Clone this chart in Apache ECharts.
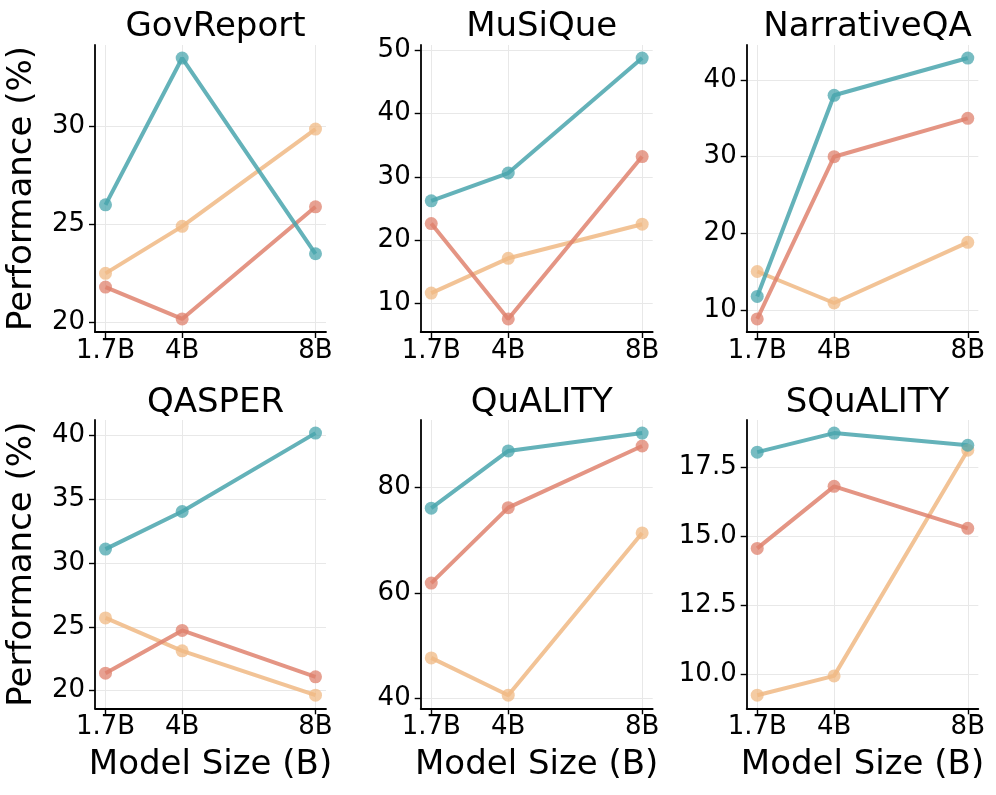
<!DOCTYPE html>
<html>
<head>
<meta charset="utf-8">
<script src="https://cdn.jsdelivr.net/npm/echarts@6/dist/echarts.min.js"></script>
<style>
html,body{margin:0;padding:0;background:#fff;}
#c{width:996px;height:795px;}
</style>
</head>
<body>
<div id="c"></div>
<script>
// ---- data ----
const datasets = ['GovReport', 'MuSiQue', 'NarrativeQA', 'QASPER', 'QuALITY', 'SQuALITY'];
const modelSizes = [1.7, 4, 8];
const sizeLabels = ['1.7B', '4B', '8B'];
// values per dataset, order [1.7B, 4B, 8B]
const tealValues = [
  [26.0, 33.5, 23.5],
  [26.2, 30.6, 48.8],
  [11.8, 38.0, 42.85],
  [31.1, 34.05, 40.2],
  [76.1, 87.0, 90.4],
  [18.05, 18.74, 18.3]
];
const salmonValues = [
  [21.8, 20.17, 25.9],
  [22.6, 7.5, 33.2],
  [8.87, 30.0, 35.0],
  [21.37, 24.72, 21.08],
  [61.85, 76.2, 87.95],
  [14.56, 16.81, 15.29]
];
const peachValues = [
  [22.5, 24.9, 29.87],
  [11.6, 17.1, 22.5],
  [15.05, 10.95, 18.85],
  [25.7, 23.12, 19.64],
  [47.6, 40.5, 71.4],
  [9.24, 9.94, 18.12]
];
const yTickValues = [
  [20, 25, 30],
  [10, 20, 30, 40, 50],
  [10, 20, 30, 40],
  [20, 25, 30, 35, 40],
  [40, 60, 80],
  [10, 12.5, 15, 17.5]
];
const yTickDecimals = [0, 0, 0, 0, 0, 1];

// ---- layout / style ----
const FONT = 'DejaVu Sans';
const colLeft = [95, 420.7, 746.7];
const colWidth = [231, 232, 231.6];
const rowTop = [45, 420];
const rowHeight = [287, 288.3];
const titleTop = [5, 381];
const seriesStyles = [
  {name: 'peach', color: '#f0b984', values: peachValues},
  {name: 'salmon', color: '#df826e', values: salmonValues},
  {name: 'teal', color: '#49a5ad', values: tealValues}
];

const grids = [], xAxes = [], yAxes = [], series = [], titles = [];
datasets.forEach((name, i) => {
  const r = Math.floor(i / 3), c = i % 3;
  grids.push({left: colLeft[c], top: rowTop[r], width: colWidth[c], height: rowHeight[r]});
  titles.push({
    text: name,
    left: colLeft[c] + colWidth[c] / 2,
    top: titleTop[r],
    textAlign: 'center',
    textStyle: {fontFamily: FONT, fontSize: 34, fontWeight: 'normal', color: '#000'}
  });
  const xr = modelSizes[modelSizes.length - 1] - modelSizes[0];
  xAxes.push({
    type: 'value', gridIndex: i,
    min: modelSizes[0] - 0.05 * xr, max: modelSizes[modelSizes.length - 1] + 0.05 * xr,
    name: r === 1 ? 'Model Size (B)' : '',
    nameLocation: 'middle', nameGap: 40,
    nameTextStyle: {fontFamily: FONT, fontSize: 34, color: '#000'},
    axisLine: {show: true, onZero: false, lineStyle: {color: '#000', width: 1.8}},
    axisTick: {show: true, length: 6, customValues: modelSizes, lineStyle: {color: '#000', width: 1.4}},
    axisLabel: {
      customValues: modelSizes, margin: 6,
      fontFamily: FONT, fontSize: 26, color: '#000',
      formatter: v => sizeLabels[modelSizes.indexOf(v)] || ''
    },
    splitLine: {show: true, lineStyle: {color: '#e8e8e8', width: 1}}
  });
  const all = tealValues[i].concat(salmonValues[i], peachValues[i]);
  const mn = Math.min(...all), mx = Math.max(...all), pad = 0.05 * (mx - mn);
  yAxes.push({
    type: 'value', gridIndex: i,
    min: mn - pad, max: mx + pad,
    name: c === 0 ? 'Performance (%)' : '',
    nameLocation: 'middle', nameGap: 56,
    nameTextStyle: {fontFamily: FONT, fontSize: 34, color: '#000'},
    axisLine: {show: true, onZero: false, lineStyle: {color: '#000', width: 1.8}},
    axisTick: {show: true, length: 6, customValues: yTickValues[i], lineStyle: {color: '#000', width: 1.4}},
    axisLabel: {
      customValues: yTickValues[i], margin: 10,
      fontFamily: FONT, fontSize: 26, color: '#000',
      formatter: v => v.toFixed(yTickDecimals[i])
    },
    splitLine: {show: true, lineStyle: {color: '#e8e8e8', width: 1}}
  });
  seriesStyles.forEach(s => {
    series.push({
      type: 'line', name: s.name,
      xAxisIndex: i, yAxisIndex: i,
      data: modelSizes.map((x, k) => [x, s.values[i][k]]),
      symbol: 'circle', symbolSize: 13,
      lineStyle: {color: s.color, width: 4, opacity: 0.85},
      itemStyle: {color: s.color, opacity: 0.75},
      clip: false, animation: false
    });
  });
});

const chart = echarts.init(document.getElementById('c'));
chart.setOption({
  animation: false,
  backgroundColor: '#fff',
  title: titles,
  grid: grids,
  xAxis: xAxes,
  yAxis: yAxes,
  series: series
});
</script>
</body>
</html>
